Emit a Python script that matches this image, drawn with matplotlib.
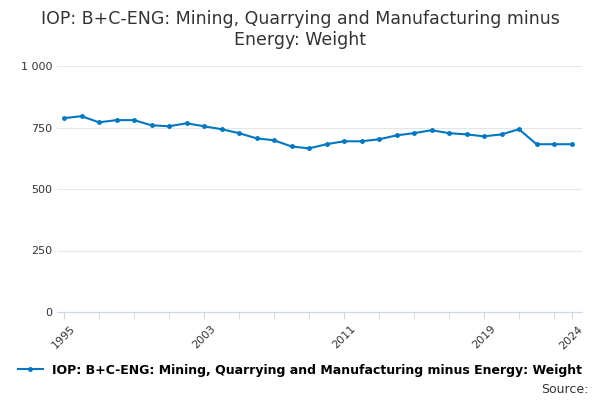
import matplotlib.pyplot as plt
import numpy as np

years = list(range(1995, 2025))
values = [788, 796, 771, 780, 780, 759, 755, 767, 755, 743, 727, 706, 698, 673, 665,
          682, 694, 694, 702, 718, 727, 739, 727, 722, 714, 722, 743, 682, 682, 682]
label_years = [1995, 2003, 2011, 2019, 2024]
y_ticks = [0, 250, 500, 750, 1000]
y_labels = ["0", "250", "500", "750", "1 000"]
color = "#0077c0"
name = "IOP: B+C-ENG: Mining, Quarrying and Manufacturing minus Energy: Weight"

fig = plt.figure(figsize=(6, 4), dpi=100)
ax = fig.add_axes([0.095, 0.22, 0.875, 0.615])
ax.plot(years, values, color=color, marker="o", markersize=2.5, linewidth=1.5, label=name)

ax.set_ylim(0, 1000)
ax.set_yticks(y_ticks)
ax.set_yticklabels(y_labels, fontsize=8, color="#333333")
ax.set_xlim(1994.6, 2024.6)
ax.set_xticks(label_years)
ax.set_xticklabels([str(y) for y in label_years], rotation=45, fontsize=8, color="#333333")
ax.set_xticks(range(1995, 2025, 2), minor=True)
ax.tick_params(axis="y", length=0)
ax.tick_params(axis="x", which="both", length=5, color="#ccd6eb")
ax.grid(axis="y", color="#e6e6e6", linewidth=0.8)
for s in ["top", "right", "left"]:
    ax.spines[s].set_visible(False)
ax.spines["bottom"].set_color("#ccd6eb")

fig.suptitle("IOP: B+C-ENG: Mining, Quarrying and Manufacturing minus\nEnergy: Weight",
             fontsize=12.5, color="#333333", y=0.975)
fig.legend(loc="lower center", bbox_to_anchor=(0.5, 0.03), frameon=False,
           prop={"size": 9, "weight": "bold"}, handlelength=2)
fig.text(0.98, 0.01, "Source:", ha="right", va="bottom", fontsize=9, color="#333333")
fig.savefig("out.png")
